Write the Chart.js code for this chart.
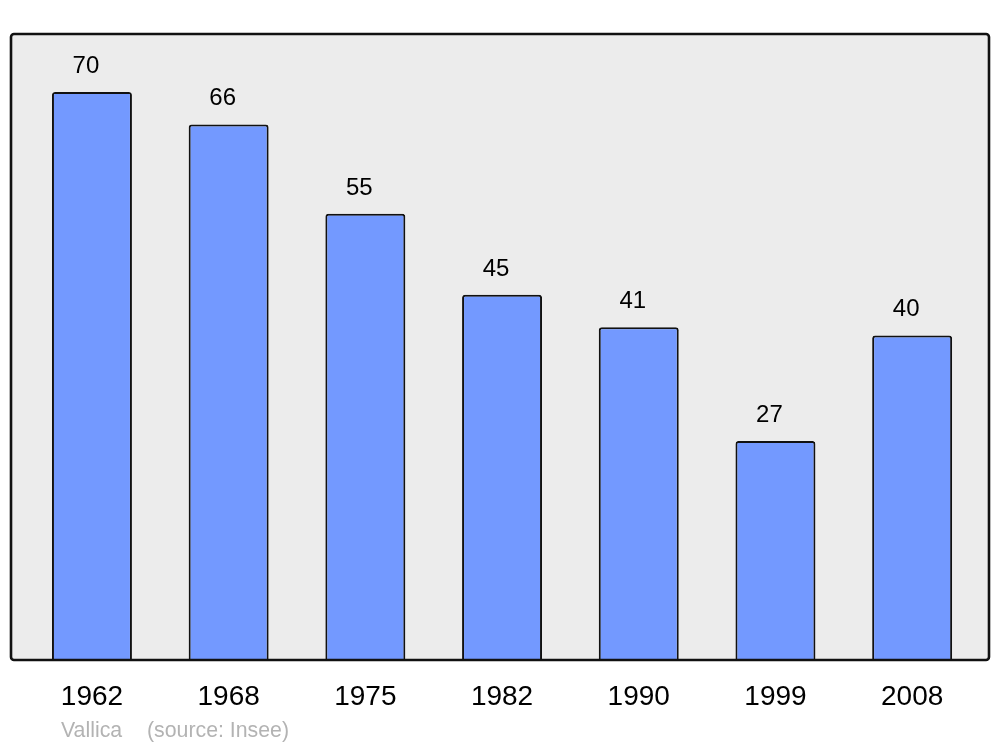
<!DOCTYPE html>
<html>
<head>
<meta charset="utf-8">
<script src="https://cdn.jsdelivr.net/npm/chart.js@4/dist/chart.umd.min.js"></script>
<style>
html,body{margin:0;padding:0;background:#fff;}
#wrap{position:relative;width:1000px;height:747px;}
</style>
</head>
<body>
<div id="wrap"><canvas id="c" width="1000" height="747"></canvas></div>
<script>
const years = ["1962","1968","1975","1982","1990","1999","2008"];
const population = [70,66,55,45,41,27,40];
const footerName = "Vallica";
const footerSource = "(source: Insee)";

const framePlugin = {
  id: 'frame',
  beforeDatasetsDraw(chart) {
    const {ctx, chartArea: a} = chart;
    ctx.save();
    ctx.fillStyle = '#ececec';
    roundRect(ctx, a.left - 12.6, a.top, (a.right + 8.5) - (a.left - 12.6), a.bottom - a.top, 3);
    ctx.fill();
    ctx.restore();
  },
  afterDatasetsDraw(chart) {
    const {ctx, chartArea: a} = chart;
    ctx.save();
    ctx.strokeStyle = '#111';
    ctx.lineWidth = 2.6;
    roundRect(ctx, a.left - 12.6, a.top, (a.right + 8.5) - (a.left - 12.6), a.bottom - a.top, 3);
    ctx.stroke();
    // value labels
    const meta = chart.getDatasetMeta(0);
    ctx.fillStyle = '#000';
    ctx.font = '24px "Liberation Sans", Arial, sans-serif';
    ctx.textAlign = 'center';
    ctx.textBaseline = 'alphabetic';
    meta.data.forEach((bar, i) => {
      ctx.fillText(String(chart.data.datasets[0].data[i]), bar.x - 6, bar.y - 19);
    });
    // footer
    ctx.fillStyle = '#b3b3b3';
    ctx.font = '21.3px "Liberation Sans", Arial, sans-serif';
    ctx.textAlign = 'left';
    ctx.fillText(footerName, 61, 737);
    ctx.fillText(footerSource, 147, 737);
    ctx.restore();
  }
};
function roundRect(ctx, x, y, w, h, r) {
  ctx.beginPath();
  ctx.moveTo(x + r, y);
  ctx.lineTo(x + w - r, y);
  ctx.arcTo(x + w, y, x + w, y + r, r);
  ctx.lineTo(x + w, y + h - r);
  ctx.arcTo(x + w, y + h, x + w - r, y + h, r);
  ctx.lineTo(x + r, y + h);
  ctx.arcTo(x, y + h, x, y + h - r, r);
  ctx.lineTo(x, y + r);
  ctx.arcTo(x, y, x + r, y, r);
  ctx.closePath();
}

new Chart(document.getElementById('c'), {
  type: 'bar',
  data: {
    labels: years,
    datasets: [{
      data: population,
      backgroundColor: '#7399ff',
      borderColor: '#111',
      borderWidth: 2,
      borderSkipped: 'bottom',
      borderRadius: {topLeft: 3, topRight: 3, bottomLeft: 0, bottomRight: 0},
      barPercentage: 0.585,
      categoryPercentage: 1.0
    }]
  },
  options: {
    responsive: false,
    animation: false,
    devicePixelRatio: 1,
    layout: { padding: { left: 23.6, right: 19.5, top: 34, bottom: 13.4 } },
    plugins: { legend: { display: false }, tooltip: { enabled: false }, title: { display: false } },
    scales: {
      y: { display: false, min: 0, max: 77.15 },
      x: {
        grid: { display: false, drawTicks: false },
        border: { display: false },
        ticks: {
          color: '#000',
          font: { size: 28, family: '"Liberation Sans", Arial, sans-serif' },
          padding: 20,
          maxRotation: 0
        }
      }
    }
  },
  plugins: [framePlugin]
});
</script>
</body>
</html>
